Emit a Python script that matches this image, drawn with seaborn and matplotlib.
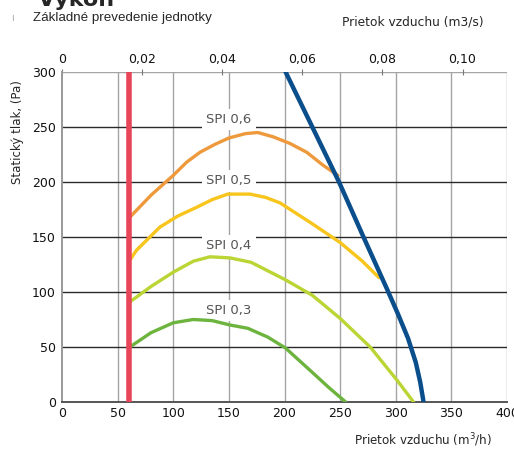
import numpy as np
import pandas as pd
import seaborn as sns
import matplotlib.pyplot as plt

# air flow (m3/h) vs static pressure (Pa)
spi06_x = [61, 80, 100, 112, 124, 137, 150, 165, 176, 190, 205, 220, 235, 248]
spi06_y = [168, 188, 206, 218, 227, 234, 240, 244, 245, 241, 235, 227, 215, 206]

spi05_x = [61, 67, 88, 104, 121, 135, 149, 169, 183, 196, 225, 250, 270, 285]
spi05_y = [129, 138, 159, 169, 177, 184, 189, 189, 186, 181, 162, 145, 128, 113]

spi04_x = [61, 80, 100, 118, 133, 151, 170, 201, 225, 250, 277, 301, 316]
spi04_y = [91, 105, 118, 128, 132, 131, 127, 111, 97, 76, 50, 20, 0]

spi03_x = [61, 80, 100, 118, 135, 151, 167, 185, 201, 226, 240, 255]
spi03_y = [50, 63, 72, 75, 74, 70, 67, 59, 49, 26, 13, 0]

fan_x = [201, 225, 249, 271, 292, 302, 311, 318, 322, 325]
fan_y = [300, 250, 200, 150, 103, 80, 58, 36, 18, 0]

min_flow = 60  # red limit line

spi_labels = ["SPI 0,6", "SPI 0,5", "SPI 0,4", "SPI 0,3"]
label_y = [257, 201, 142, 83]

m3h_ticks = [0, 50, 100, 150, 200, 250, 300, 350, 400]
pa_ticks = [0, 50, 100, 150, 200, 250, 300]
m3s_ticks = [0, 0.02, 0.04, 0.06, 0.08, 0.10]
m3s_labels = ["0", "0,02", "0,04", "0,06", "0,08", "0,10"]

sns.set_style("white")
plt.rcParams["font.family"] = ["DejaVu Sans"]

fig = plt.figure(figsize=(5.14, 4.53), dpi=100)
ax = fig.add_axes([62 / 514, 1 - 402 / 453, 445 / 514, 330 / 453])

# grid
for x in m3h_ticks[1:]:
    ax.axvline(x, color="#a4a4a4", lw=1.0, zorder=0)
for y in pa_ticks[1:-1]:
    ax.axhline(y, color="#2a2a2a", lw=1.0, zorder=0)
ax.axhline(300, color="#a4a4a4", lw=1.0, zorder=0)

curves = [
    (spi06_x, spi06_y, "#EE9A3C", 2.4),
    (spi05_x, spi05_y, "#F7C51C", 2.4),
    (spi04_x, spi04_y, "#BAD534", 2.4),
    (spi03_x, spi03_y, "#6DB43F", 2.4),
    (fan_x, fan_y, "#0B4E8C", 3.2),
]
for xs, ys, col, lw in curves:
    df = pd.DataFrame({"q": xs, "p": ys})
    sns.lineplot(data=df, x="q", y="p", color=col, lw=lw, ax=ax,
                 estimator=None, sort=False, zorder=3,
                 solid_joinstyle="round")

ax.axvline(min_flow, color="#E8455A", lw=4, zorder=4)

for lab, ly in zip(spi_labels, label_y):
    ax.text(150, ly, lab, ha="center", va="center", fontsize=9.5,
            color="#555555", zorder=2,
            bbox=dict(facecolor="white", edgecolor="none", pad=3))

ax.set_xlim(0, 400)
ax.set_ylim(0, 300)
ax.set_xticks(m3h_ticks)
ax.set_yticks(pa_ticks)
ax.tick_params(axis="both", direction="inout", length=5, width=0.8,
               color="#777777", labelsize=9, labelcolor="#111111", pad=2)
ax.tick_params(axis="x", pad=1)
for s in ["top", "right"]:
    ax.spines[s].set_visible(False)
ax.spines["left"].set_color("#999999")
ax.spines["left"].set_linewidth(1.4)
ax.spines["bottom"].set_color("#555555")
ax.spines["bottom"].set_linewidth(1.4)
ax.set_xlabel("")
ax.set_ylabel("")

top = ax.secondary_xaxis("top", functions=(lambda q: q / 3600, lambda s: s * 3600))
top.set_xticks(m3s_ticks)
top.set_xticklabels(m3s_labels)
top.tick_params(direction="inout", length=5, width=0.8, color="#777777",
                labelsize=9, labelcolor="#111111", pad=2)
top.spines["top"].set_visible(False)

fig.text(354 / 514, 1 - 440 / 453, "Prietok vzduchu (m$^3$/h)", fontsize=8.6,
         ha="left", va="center")
fig.text(342 / 514, 1 - 22 / 453, "Prietok vzduchu (m3/s)", fontsize=8.8,
         ha="left", va="center")
fig.text(18 / 514, 1 - 132 / 453, "Statický tlak, (Pa)", fontsize=8.5,
         rotation=90, ha="center", va="center")
fig.text(38 / 514, 1 + 1 / 453, "Výkon", fontsize=16, fontweight="bold",
         ha="left", va="center")
fig.text(12 / 514, 1 - 18 / 453, "ı", fontsize=7, color="#aaaaaa",
         ha="center", va="center")
fig.text(33 / 514, 1 - 18 / 453, "Základné prevedenie jednotky",
         fontsize=9.6, family="Liberation Sans", ha="left", va="center")

fig.savefig("out.png", dpi=100)
